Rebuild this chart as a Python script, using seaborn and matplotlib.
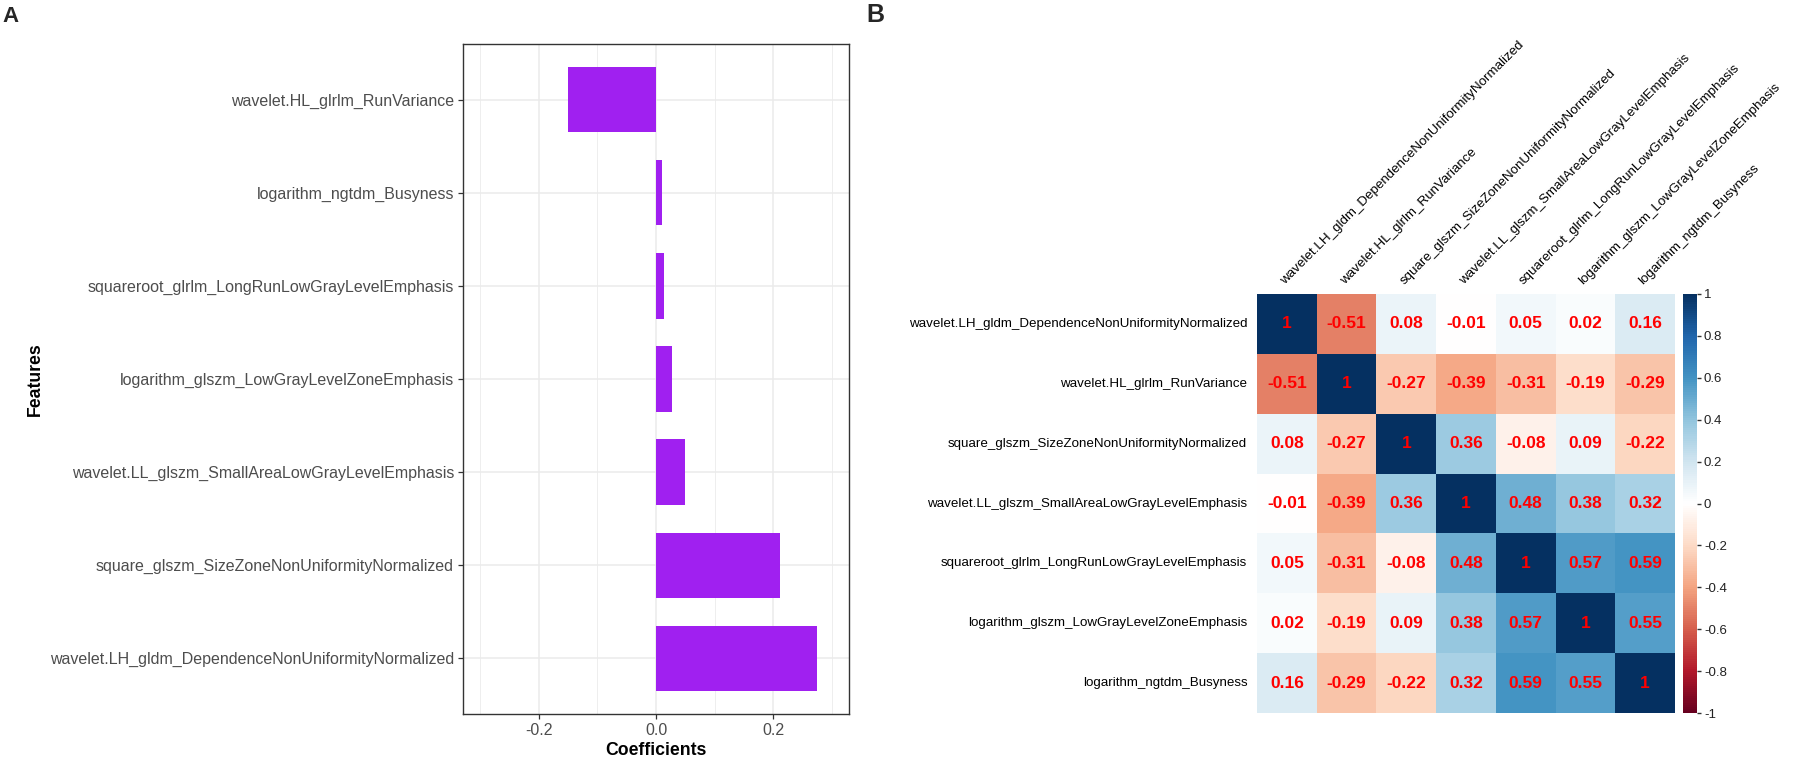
import numpy as np
import pandas as pd
import matplotlib
matplotlib.use("Agg")
import matplotlib.pyplot as plt
from matplotlib.colors import LinearSegmentedColormap
from matplotlib.ticker import FormatStrFormatter, FixedLocator
import seaborn as sns

# ---------------- data ----------------
features = [
    "wavelet.HL_glrlm_RunVariance",
    "logarithm_ngtdm_Busyness",
    "squareroot_glrlm_LongRunLowGrayLevelEmphasis",
    "logarithm_glszm_LowGrayLevelZoneEmphasis",
    "wavelet.LL_glszm_SmallAreaLowGrayLevelEmphasis",
    "square_glszm_SizeZoneNonUniformityNormalized",
    "wavelet.LH_gldm_DependenceNonUniformityNormalized",
]
coefficients = [-0.150, 0.010, 0.013, 0.027, 0.049, 0.212, 0.274]

corr_labels = [
    "wavelet.LH_gldm_DependenceNonUniformityNormalized",
    "wavelet.HL_glrlm_RunVariance",
    "square_glszm_SizeZoneNonUniformityNormalized",
    "wavelet.LL_glszm_SmallAreaLowGrayLevelEmphasis",
    "squareroot_glrlm_LongRunLowGrayLevelEmphasis",
    "logarithm_glszm_LowGrayLevelZoneEmphasis",
    "logarithm_ngtdm_Busyness",
]
corr_row1 = [1, -0.51, 0.08, -0.01, 0.05, 0.02, 0.16]
corr_row2 = [-0.51, 1, -0.27, -0.39, -0.31, -0.19, -0.29]
corr_row3 = [0.08, -0.27, 1, 0.36, -0.08, 0.09, -0.22]
corr_row4 = [-0.01, -0.39, 0.36, 1, 0.48, 0.38, 0.32]
corr_row5 = [0.05, -0.31, -0.08, 0.48, 1, 0.57, 0.59]
corr_row6 = [0.02, -0.19, 0.09, 0.38, 0.57, 1, 0.55]
corr_row7 = [0.16, -0.29, -0.22, 0.32, 0.59, 0.55, 1]
colorbar_ticks = [-1, -0.8, -0.6, -0.4, -0.2, 0, 0.2, 0.4, 0.6, 0.8, 1]
coef_ticks = [-0.2, 0.0, 0.2]
coef_minor_ticks = [-0.3, -0.1, 0.1, 0.3]

# ---------------- style ----------------
sns.set_style("white")
plt.rcParams["font.family"] = ["Liberation Sans", "DejaVu Sans"]

W, H = 1797, 764
fig = plt.figure(figsize=(W / 100, H / 100), dpi=100)

def px_axes(left, top, right, bottom):
    return fig.add_axes([left / W, (H - bottom) / H, (right - left) / W, (bottom - top) / H])

# ---------------- panel A ----------------
axA = px_axes(463, 44, 849, 714)
sns.barplot(x=coefficients, y=features, ax=axA, orient="h", color="#A020F0",
            saturation=1, width=0.7, edgecolor="none")
axA.set_xlim(-0.329, 0.329)
axA.set_ylim(len(features) - 0.4, -0.6)
axA.xaxis.set_major_locator(FixedLocator(coef_ticks))
axA.xaxis.set_minor_locator(FixedLocator(coef_minor_ticks))
axA.xaxis.set_major_formatter(FormatStrFormatter("%.1f"))
axA.set_axisbelow(True)
axA.grid(True, which="major", color="#EBEBEB", linewidth=1.1)
axA.grid(True, which="minor", axis="x", color="#EBEBEB", linewidth=0.6)
for s in axA.spines.values():
    s.set_visible(True)
    s.set_color("#333333")
    s.set_linewidth(1.0)
axA.tick_params(which="major", axis="both", length=3.5, width=0.9, color="#333333",
                labelcolor="#4D4D4D", labelsize=11.5, pad=3, left=True, bottom=True)
axA.tick_params(which="minor", length=0)
axA.set_xlabel("Coefficients", fontsize=12.7, fontweight="bold", color="black", labelpad=3)
axA.set_ylabel("Features", fontsize=12.7, fontweight="bold", color="black")
axA.yaxis.set_label_coords(-1.085, 0.5)

# ---------------- panel B ----------------
corr = pd.DataFrame([corr_row1, corr_row2, corr_row3, corr_row4, corr_row5, corr_row6, corr_row7],
                    index=corr_labels, columns=corr_labels)
annot = corr.map(lambda v: f"{v:g}")
cmap = LinearSegmentedColormap.from_list(
    "corrRdBu",
    ["#67001F", "#B2182B", "#D6604D", "#F4A582", "#FDDBC7", "#FFFFFF",
     "#D1E5F0", "#92C5DE", "#4393C3", "#2166AC", "#053061"], N=200)

axB = px_axes(1257, 294, 1675, 713)
cax = px_axes(1683, 294, 1697, 713)
sns.heatmap(corr, ax=axB, cbar_ax=cax, cmap=cmap, vmin=-1, vmax=1,
            annot=annot, fmt="",
            annot_kws={"color": "#FF0000", "fontweight": "bold", "fontsize": 12.5},
            linewidths=0, square=False)
axB.xaxis.tick_top()
axB.set_xlabel("")
axB.set_ylabel("")
axB.tick_params(axis="x", length=0, pad=5, labelsize=9.6, labelcolor="black")
axB.tick_params(axis="y", length=0, pad=7, labelsize=9.6, labelcolor="black")
for lab in axB.get_xticklabels():
    lab.set_rotation(45)
    lab.set_ha("left")
    lab.set_va("bottom")
    lab.set_rotation_mode("anchor")
for lab in axB.get_yticklabels():
    lab.set_rotation(0)

cax.yaxis.set_major_locator(FixedLocator(colorbar_ticks))
cax.set_yticklabels([f"{t:g}" for t in colorbar_ticks])
cax.tick_params(axis="y", length=3, width=1, color="#333333", labelsize=9.5,
                labelcolor="#222222", pad=2, right=True)

# ---------------- panel letters ----------------
fig.text(2 / W, 1 - 6 / H, "A", fontsize=16, fontweight="bold", va="top", ha="left")
fig.text(866 / W, 1 - 3 / H, "B", fontsize=18, fontweight="bold", va="top", ha="left")

fig.savefig("out.png", dpi=100)
